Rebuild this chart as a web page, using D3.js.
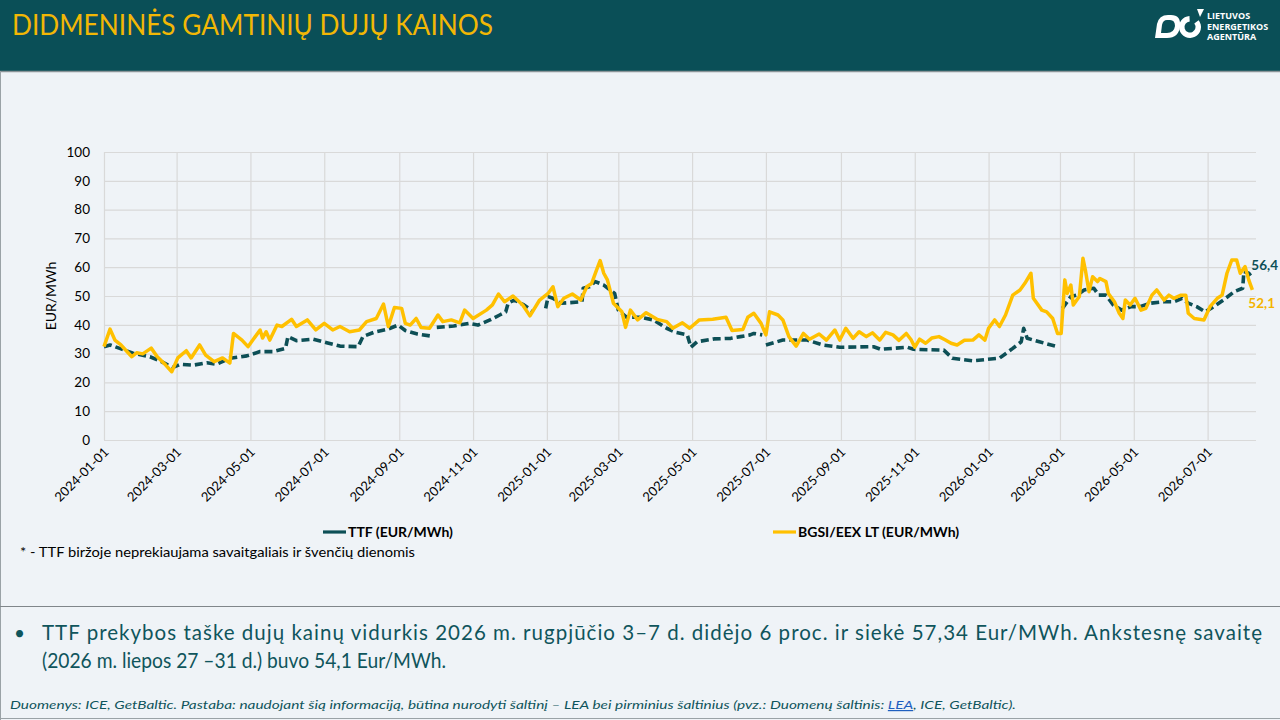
<!DOCTYPE html>
<html><head><meta charset="utf-8">
<script src="https://cdn.jsdelivr.net/npm/d3@7"></script>
<style>
body{margin:0;background:#eff3f7;}
svg{display:block;font-family:Lato,"Open Sans",sans-serif;}
</style>
</head><body>
<svg id="chart" width="1280" height="720"></svg>
<script>
// ---------- DATA ----------
const yTicks = [0,10,20,30,40,50,60,70,80,90,100];
const xTickLabels = ["2024-01-01","2024-03-01","2024-05-01","2024-07-01","2024-09-01","2024-11-01",
  "2025-01-01","2025-03-01","2025-05-01","2025-07-01","2025-09-01","2025-11-01",
  "2026-01-01","2026-03-01","2026-05-01","2026-07-01"];

const bgsiDates = ["2024-01-01","2024-01-06","2024-01-10","2024-01-15","2024-01-24","2024-01-28","2024-02-02","2024-02-09","2024-02-14","2024-02-21","2024-02-26",
"2024-03-02","2024-03-09","2024-03-13","2024-03-20","2024-03-25","2024-04-01","2024-04-08","2024-04-14","2024-04-17","2024-04-24","2024-04-29",
"2024-05-05","2024-05-09","2024-05-11","2024-05-14","2024-05-17","2024-05-23","2024-05-27","2024-06-04","2024-06-08","2024-06-17","2024-06-24",
"2024-07-01","2024-07-08","2024-07-14","2024-07-22","2024-07-30","2024-08-05","2024-08-13","2024-08-19","2024-08-23","2024-08-28",
"2024-09-03","2024-09-06","2024-09-10","2024-09-15","2024-09-19","2024-09-26","2024-10-03","2024-10-07","2024-10-14","2024-10-21","2024-10-25",
"2024-11-01","2024-11-12","2024-11-17","2024-11-22","2024-11-27","2024-12-04","2024-12-12","2024-12-18","2024-12-26",
"2025-01-02","2025-01-06","2025-01-10","2025-01-15","2025-01-22","2025-01-29","2025-02-03","2025-02-07","2025-02-11","2025-02-14","2025-02-17","2025-02-20","2025-02-25",
"2025-03-04","2025-03-07","2025-03-11","2025-03-17","2025-03-24","2025-04-02","2025-04-10","2025-04-15","2025-04-23","2025-04-29",
"2025-05-07","2025-05-18","2025-05-29","2025-06-03","2025-06-12","2025-06-16","2025-06-21","2025-06-27","2025-07-01","2025-07-04","2025-07-11","2025-07-15","2025-07-20","2025-07-26",
"2025-08-01","2025-08-06","2025-08-14","2025-08-20","2025-08-27","2025-08-31","2025-09-05","2025-09-11","2025-09-16","2025-09-22","2025-09-27","2025-10-03","2025-10-08","2025-10-14","2025-10-19","2025-10-25","2025-10-29",
"2025-11-01","2025-11-05","2025-11-10","2025-11-15","2025-11-21","2025-11-26","2025-12-01","2025-12-06","2025-12-12","2025-12-19","2025-12-24","2025-12-29",
"2026-01-01","2026-01-06","2026-01-10","2026-01-15","2026-01-21","2026-01-27","2026-01-31","2026-02-05","2026-02-07","2026-02-14","2026-02-18","2026-02-23","2026-02-27",
"2026-03-02","2026-03-05","2026-03-07","2026-03-10","2026-03-12","2026-03-17","2026-03-20","2026-03-22","2026-03-25","2026-03-28",
"2026-04-01","2026-04-03","2026-04-08","2026-04-10","2026-04-15","2026-04-19","2026-04-22","2026-04-24","2026-04-28",
"2026-05-02","2026-05-07","2026-05-11","2026-05-16","2026-05-20","2026-05-26","2026-05-30","2026-06-03","2026-06-09","2026-06-13","2026-06-15","2026-06-20","2026-06-28",
"2026-07-03","2026-07-09","2026-07-13","2026-07-17","2026-07-21","2026-07-25","2026-07-28","2026-08-01","2026-08-04","2026-08-07"];
const bgsiValues = [32.4,38.5,34.7,33.0,28.9,30.3,29.9,31.9,28.9,26.0,23.7,
28.5,31.0,28.5,33.0,29.5,27.2,28.5,26.7,37.0,34.7,32.4,
35.9,38.2,35.4,37.6,34.7,39.9,39.4,41.9,39.4,41.7,38.2,
40.5,38.2,39.4,37.6,38.2,41.1,42.2,47.2,39.4,46.0,
45.7,40.5,39.9,42.2,39.1,38.8,43.4,41.1,41.7,40.7,45.1,
42.2,45.1,46.9,50.7,48.0,50.0,46.9,43.1,48.6,
50.9,53.2,46.3,49.2,50.7,48.6,53.2,54.4,59.0,62.3,57.9,55.6,47.5,
44.5,39.1,45.1,41.7,44.2,41.9,41.1,38.8,40.7,38.8,
41.7,41.9,42.6,38.0,38.4,42.6,44.0,40.5,36.5,44.5,43.4,41.7,35.9,32.6,
37.0,35.0,36.8,34.7,38.2,34.7,38.8,35.3,37.6,35.9,37.2,34.7,37.4,36.5,34.6,37.0,34.8,
32.2,35.0,33.6,35.4,35.9,34.8,33.6,33.0,34.6,34.7,36.5,34.7,
38.8,41.7,39.4,43.4,50.3,52.1,54.4,57.9,49.2,45.1,44.5,42.2,37.0,
37.0,55.6,50.9,53.8,46.9,49.8,63.1,59.0,51.5,56.7,
55.0,56.1,55.0,50.9,48.0,44.0,42.2,48.6,46.9,
49.2,45.1,45.7,50.3,52.1,48.6,50.3,49.2,50.3,50.3,44.0,42.2,41.7,
46.3,49.2,50.3,57.9,62.5,62.5,57.9,60.2,55.6,52.1];

// TTF: null = no trading data (gap in the line)
const ttfDates = ["2024-01-01","2024-01-06","2024-01-14","2024-01-25","2024-02-08","2024-02-16","2024-02-27","2024-03-04","2024-03-15","2024-03-26",
"2024-04-03","2024-04-14","2024-04-28","2024-05-09","2024-05-20","2024-05-30","2024-06-01","2024-06-08","2024-06-22","2024-07-03","2024-07-14","2024-07-29",
"2024-08-02","2024-08-11","2024-08-22","2024-08-31","2024-09-06","2024-09-16","2024-09-27","2024-09-29","2024-10-02","2024-10-16","2024-10-29",
"2024-11-05","2024-11-15","2024-11-23","2024-11-28","2024-11-30","2024-12-05","2024-12-13","2024-12-21","2024-12-24","2024-12-31",
"2025-01-02","2025-01-06","2025-01-12","2025-01-20","2025-01-30","2025-01-31","2025-02-05","2025-02-10","2025-02-17","2025-02-26",
"2025-03-01","2025-03-08","2025-03-19","2025-03-30","2025-04-10","2025-04-18","2025-04-27","2025-04-30","2025-05-05","2025-05-19",
"2025-06-02","2025-06-10","2025-06-18","2025-06-21","2025-06-28","2025-06-29","2025-07-01","2025-07-15","2025-07-29","2025-08-04","2025-08-17","2025-08-31",
"2025-09-28","2025-10-04","2025-10-26","2025-10-31","2025-11-25","2025-12-02","2025-12-19",
"2026-01-10","2026-01-21","2026-01-28","2026-01-30","2026-02-02","2026-02-12","2026-02-27","2026-02-28",
"2026-03-03","2026-03-10","2026-03-15","2026-03-21","2026-03-29","2026-04-02","2026-04-08","2026-04-14","2026-04-21","2026-04-29",
"2026-05-06","2026-05-15","2026-05-26","2026-06-03","2026-06-10","2026-06-15","2026-06-22","2026-06-29",
"2026-07-06","2026-07-14","2026-07-23","2026-07-30","2026-07-31","2026-08-04","2026-08-07"];
const ttfValues = [32.4,33.0,31.8,30.1,28.9,27.5,25.2,26.3,26.0,26.8,
26.3,28.4,29.2,30.7,30.7,31.8,35.9,34.5,35.0,33.8,32.6,32.4,
35.9,37.4,38.4,39.9,38.0,36.8,36.1,null,39.1,39.6,40.5,
39.9,41.7,43.4,44.5,47.5,48.6,46.9,44.5,null,45.7,
49.8,49.2,47.5,47.7,48.0,52.7,53.2,55.0,53.8,50.9,
45.1,42.6,42.6,41.7,38.8,37.3,36.5,32.2,34.1,35.1,
35.3,35.9,36.5,37.0,36.5,null,33.0,34.7,34.7,34.7,33.0,32.2,
32.4,31.5,32.2,31.5,31.2,28.4,27.5,
28.4,31.8,34.1,38.8,35.3,34.1,32.4,null,
45.7,49.8,50.3,52.1,52.7,50.3,50.3,46.9,45.1,46.3,
46.3,47.5,48.0,48.0,49.2,47.5,46.3,44.5,
46.3,48.6,51.5,52.7,58.5,57.9,56.4];

const lastLabels = ["56,4","52,1"];
const legendLabels = ["TTF (EUR/MWh)","BGSI/EEX LT (EUR/MWh)"];

// ---------- DRAW ----------
const parse = d3.timeParse("%Y-%m-%d");
const ttf = ttfDates.map((d,i)=>({date:parse(d), v:ttfValues[i]}));
const bgsi = bgsiDates.map((d,i)=>({date:parse(d), v:bgsiValues[i]}));

const TEAL = "#0d4f56", YELLOW = "#ffc000", HEAD = "#0a4f57", TXT = "#0f555c";
const svg = d3.select("#chart");

// page background & frame
svg.append("rect").attr("width",1280).attr("height",720).attr("fill","#eff3f7");
svg.append("rect").attr("width",1280).attr("height",71).attr("fill",HEAD);
svg.append("line").attr("x1",0).attr("x2",1280).attr("y1",71.5).attr("y2",71.5).attr("stroke","#8a9498").attr("stroke-width",1.5);
svg.append("line").attr("x1",0.5).attr("x2",0.5).attr("y1",71).attr("y2",720).attr("stroke","#9aa2a6");
svg.append("line").attr("x1",0).attr("x2",1280).attr("y1",606.5).attr("y2",606.5).attr("stroke","#80868a").attr("stroke-width",1.2);
svg.append("line").attr("x1",0).attr("x2",1280).attr("y1",718.5).attr("y2",718.5).attr("stroke","#9aa2a6");

// title
svg.append("text").attr("x",12).attr("y",35).attr("fill","#f2b705")
  .attr("font-size",28).attr("textLength",481).attr("lengthAdjust","spacingAndGlyphs")
  .text("DIDMENINĖS GAMTINIŲ DUJŲ KAINOS");

// logo
const logo = svg.append("g").attr("fill","#fff");
logo.append("path").attr("fill-rule","evenodd")
  .attr("d","M1155,38 L1157,24 Q1159,15 1168,15 L1171,15 Q1181,15 1180,26 Q1179,38 1167,38 Z M1161,33 L1162,25 Q1163,20 1167,20 L1170,20 Q1175,20 1175,26 Q1174,33 1167,33 Z");
logo.append("path").attr("transform","translate(1190,27)")
  .attr("d", d3.arc().innerRadius(5.5).outerRadius(11).startAngle(0.9).endAngle(2*Math.PI-0.05)());
logo.append("path").attr("d","M1197,9 L1204,9 L1200,17 Z");
["LIETUVOS","ENERGETIKOS","AGENTŪRA"].forEach((t,i)=>{
  logo.append("text").attr("x",1207).attr("y",19+i*10.5).attr("font-size",9).attr("font-weight",700)
    .attr("font-family","'Open Sans',Lato,sans-serif").text(t);
});

// scales
const x = d3.scaleTime().domain([parse("2024-01-01"), parse("2026-08-10")]).range([104,1256]);
const y = d3.scaleLinear().domain([0,100]).range([440,152]);

// grid
const xTickDates = xTickLabels.map(parse);
const gx = svg.append("g").attr("transform","translate(0,440)")
  .call(d3.axisBottom(x).tickValues(xTickDates).tickSize(-288).tickFormat(""));
gx.select(".domain").remove();
gx.selectAll("line").attr("stroke","#d9d9d9").attr("stroke-width",1.2);
const gy = svg.append("g").attr("transform","translate(104,0)")
  .call(d3.axisLeft(y).tickValues(yTicks).tickSize(-(1256-104)).tickFormat(""));
gy.select(".domain").remove();
gy.selectAll("line").attr("stroke","#d9d9d9").attr("stroke-width",1.2);

// y labels
const yl = svg.append("g").attr("transform","translate(104,0)")
  .call(d3.axisLeft(y).tickValues(yTicks).tickSize(0).tickPadding(14));
yl.select(".domain").remove();
yl.selectAll("text").attr("font-size",13.5).attr("fill","#000").attr("font-family","Lato,sans-serif");

// x labels
const xl = svg.append("g").attr("transform","translate(0,440)")
  .call(d3.axisBottom(x).tickValues(xTickDates).tickSize(0).tickFormat(d3.timeFormat("%Y-%m-%d")));
xl.select(".domain").remove();
xl.selectAll("text").attr("font-size",13).attr("fill","#000").attr("font-family","Lato,sans-serif")
  .attr("text-anchor","end").attr("dy",0).attr("y",0)
  .attr("transform","translate(5,13) rotate(-45)");

// y axis title
svg.append("text").attr("transform","translate(56,296) rotate(-90)").attr("text-anchor","middle")
  .attr("font-size",14).attr("fill","#000").text("EUR/MWh");

// lines
const line = d3.line().defined(d=>d.v!=null).x(d=>x(d.date)).y(d=>y(d.v));
svg.append("path").datum(ttf).attr("d",line).attr("fill","none").attr("stroke",TEAL)
  .attr("stroke-width",3.6).attr("stroke-dasharray","8 4").attr("stroke-linejoin","round");
svg.append("path").datum(bgsi).attr("d",line).attr("fill","none").attr("stroke",YELLOW)
  .attr("stroke-width",3.5).attr("stroke-linejoin","round");

// end labels
const lt = ttf[ttf.length-1], lb = bgsi[bgsi.length-1];
svg.append("text").attr("x",x(lt.date)-1).attr("y",y(lt.v)-8).attr("font-size",13.5).attr("font-weight",700)
  .attr("fill",TEAL).text(lastLabels[0]);
svg.append("text").attr("x",x(lb.date)-4).attr("y",y(lb.v)+18).attr("font-size",13.5).attr("font-weight",700)
  .attr("fill","#f4b400").text(lastLabels[1]);

// legend
const leg = [{x:323, c:TEAL, t:legendLabels[0]},{x:773, c:YELLOW, t:legendLabels[1]}];
leg.forEach(l=>{
  svg.append("line").attr("x1",l.x).attr("x2",l.x+23).attr("y1",532).attr("y2",532).attr("stroke",l.c).attr("stroke-width",3.2);
  svg.append("text").attr("x",l.x+25).attr("y",537).attr("font-size",14).attr("font-weight",700).attr("fill","#000").text(l.t);
});

// footnote
svg.append("text").attr("x",20).attr("y",557).attr("font-size",12.5).attr("fill","#000")
  .attr("textLength",395).attr("lengthAdjust","spacingAndGlyphs")
  .text("* - TTF biržoje neprekiaujama savaitgaliais ir švenčių dienomis");

// bullet text
svg.append("text").attr("x",14).attr("y",640).attr("font-size",19).attr("fill",TXT).text("•");
svg.append("text").attr("x",42).attr("y",640).attr("font-size",20.5).attr("fill",TXT)
  .attr("textLength",1220).attr("lengthAdjust","spacing")
  .text("TTF prekybos taške dujų kainų vidurkis 2026 m. rugpjūčio 3–7 d. didėjo 6 proc. ir siekė 57,34 Eur/MWh. Ankstesnę savaitę");
svg.append("text").attr("x",42).attr("y",668).attr("font-size",20.5).attr("fill",TXT)
  .attr("textLength",404).attr("lengthAdjust","spacingAndGlyphs")
  .text("(2026 m. liepos 27 –31 d.) buvo 54,1 Eur/MWh.");

// source
const src = svg.append("text").attr("x",10).attr("y",709).attr("font-size",12).attr("font-style","italic")
  .attr("fill",TXT).attr("textLength",1006).attr("lengthAdjust","spacingAndGlyphs");
src.append("tspan").text("Duomenys: ICE, GetBaltic. Pastaba: naudojant šią informaciją, būtina nurodyti šaltinį – LEA bei pirminius šaltinius (pvz.: Duomenų šaltinis: ");
src.append("tspan").attr("fill","#1f5fbf").attr("text-decoration","underline").text("LEA");
src.append("tspan").text(", ICE, GetBaltic).");
</script>
</body></html>
